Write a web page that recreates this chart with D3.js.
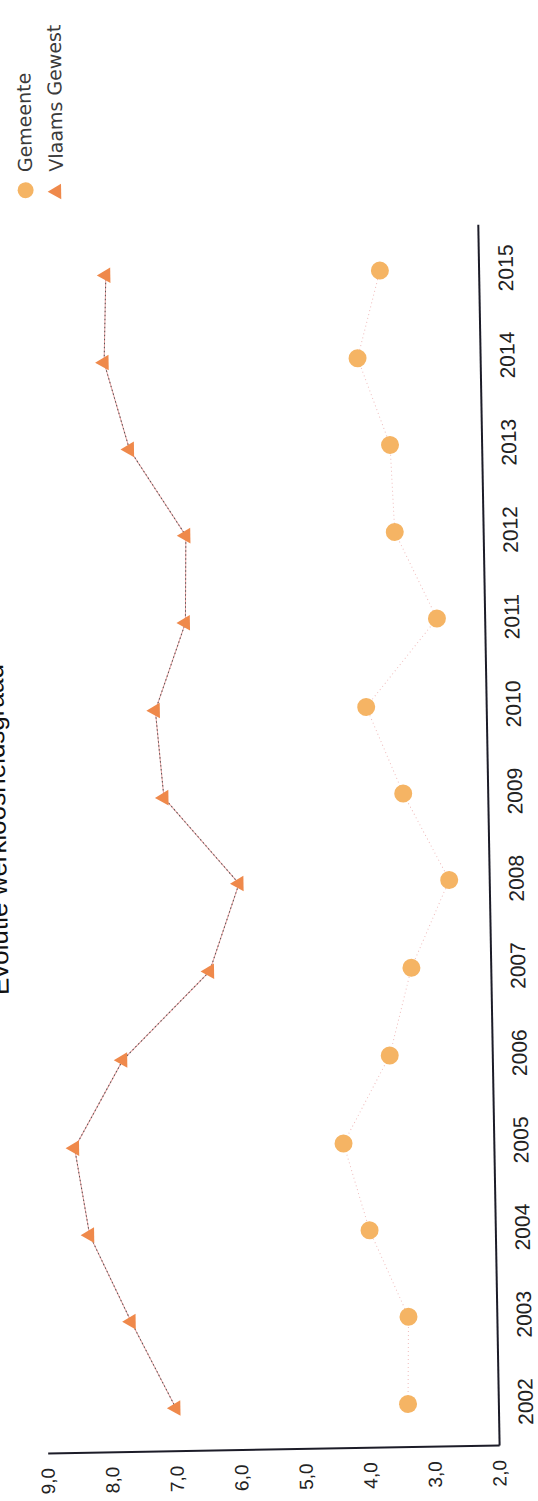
<!DOCTYPE html>
<html>
<head>
<meta charset="utf-8">
<script src="https://cdn.jsdelivr.net/npm/d3@7/dist/d3.min.js"></script>
<style>
  html, body { margin: 0; padding: 0; background: #ffffff; }
  svg { display: block; }
</style>
</head>
<body>
<div id="chart"></div>
<script>
// ---- data ----
const chartTitle = "Evolutie werkloosheidsgraad";
const years = ["2002","2003","2004","2005","2006","2007","2008","2009","2010","2011","2012","2013","2014","2015"];
const gemeente = [3.40, 3.37, 3.95, 4.33, 3.59, 3.23, 2.62, 3.31, 3.86, 2.74, 3.37, 3.42, 3.90, 3.53];
const vlaamsGewest = [7.00, 7.67, 8.29, 8.50, 7.73, 6.36, 5.88, 7.02, 7.13, 6.64, 6.61, 7.46, 7.83, 7.78];
const valueTicks = [2, 3, 4, 5, 6, 7, 8, 9];
const seriesNames = ["Gemeente", "Vlaams Gewest"];

// ---- layout ----
const pageW = 538, pageH = 1501;
const svg = d3.select("#chart").append("svg")
  .attr("width", pageW).attr("height", pageH);
svg.append("rect").attr("width", pageW).attr("height", pageH).attr("fill", "#ffffff");

// scanned page: chart is turned a quarter turn, with a slight skew of the scan
const tilt = svg.append("g").attr("transform", "rotate(-1,270,840)");
const frame = tilt.append("g").attr("transform", `translate(0,${pageH}) rotate(-90)`);
// inside frame: width = 1501 (years axis), height = 538 (values axis)

const x = d3.scalePoint().domain(years).range([51, 1272]).padding(0.5);
const y = d3.scaleLinear().domain([2, 9]).range([488.5, 37]);

const fmt = d => d3.format(".1f")(d).replace(".", ",");

// title (mostly cut off at the page edge)
frame.append("text")
  .attr("x", 676).attr("y", 6)
  .attr("text-anchor", "middle")
  .attr("font-family", "Liberation Sans, Arial, sans-serif")
  .attr("font-size", 26)
  .attr("fill", "#111")
  .text(chartTitle);

// lines
const line = d3.line().x((d, i) => x(years[i])).y(d => y(d));
frame.append("path").datum(gemeente).attr("d", line)
  .attr("fill", "none").attr("stroke", "#efbcbc").attr("stroke-width", 1)
  .attr("stroke-dasharray", "1,3");
frame.append("path").datum(vlaamsGewest).attr("d", line)
  .attr("fill", "none").attr("stroke", "#e9a2a2").attr("stroke-width", 1);
frame.append("path").datum(vlaamsGewest).attr("d", line)
  .attr("fill", "none").attr("stroke", "#555", ).attr("stroke-width", 1)
  .attr("stroke-dasharray", "1.5,2.5");

// markers
const circColor = "#f5b464", triColor = "#ef894b";
frame.append("g").selectAll("circle").data(gemeente).join("circle")
  .attr("cx", (d, i) => x(years[i])).attr("cy", d => y(d))
  .attr("r", 9).attr("fill", circColor);
const tri = d3.symbol().type(d3.symbolTriangle).size(105);
frame.append("g").selectAll("path").data(vlaamsGewest).join("path")
  .attr("d", tri)
  .attr("transform", (d, i) => `translate(${x(years[i])},${y(d)})`)
  .attr("fill", triColor);

// axes
const axisColor = "#1c1c28";
const gx = frame.append("g").attr("transform", `translate(0,${y(2)})`)
  .call(d3.axisBottom(x).tickSize(0).tickSizeOuter(0).tickPadding(19.5));
const gy = frame.append("g").attr("transform", `translate(51,0)`)
  .call(d3.axisLeft(y).tickValues(valueTicks).tickFormat(fmt).tickSize(0).tickSizeOuter(0).tickPadding(14));
[gx, gy].forEach(g => {
  g.select(".domain").attr("stroke", axisColor).attr("stroke-width", 2);
  g.selectAll("text").attr("fill", "#222")
    .attr("font-family", "Liberation Sans, Arial, sans-serif");
});
gx.selectAll("text").attr("font-size", 21);
gy.selectAll("text").attr("font-size", 19);

// legend (top-right of the chart)
const legend = frame.append("g");
const legY = [37, 68];
legend.append("circle").attr("cx", 1315).attr("cy", legY[0]).attr("r", 8).attr("fill", circColor);
legend.append("path").attr("d", tri).attr("transform", `translate(1313,${legY[1]})`).attr("fill", triColor);
legend.selectAll("text").data(seriesNames).join("text")
  .attr("x", 1333).attr("y", (d, i) => legY[i])
  .attr("dy", "0.35em")
  .attr("font-family", "DejaVu Sans, Verdana, sans-serif")
  .attr("font-size", 19)
  .attr("fill", "#3a3a3a")
  .text(d => d);
</script>
</body>
</html>
